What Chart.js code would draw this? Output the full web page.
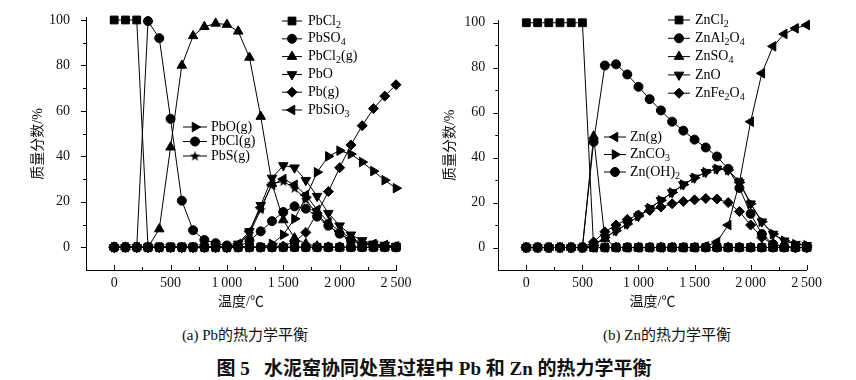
<!DOCTYPE html>
<html>
<head>
<meta charset="utf-8">
<script src="https://cdn.jsdelivr.net/npm/chart.js@4.4.1/dist/chart.umd.min.js"></script>
<style>
  body { margin: 0; background: #fff; width: 856px; height: 380px; position: relative; overflow: hidden;
         font-family: "Liberation Serif", "Noto Sans CJK SC", serif; color: #111; }
  canvas { position: absolute; top: 0; }
  .cap { position: absolute; font-size: 15px; white-space: nowrap; transform: translateX(-50%); }
  #title { position: absolute; left: 434px; top: 353px; font-size: 19px; font-weight: bold; white-space: pre;
           transform: translateX(-50%); }
</style>
</head>
<body>
<canvas id="pb" width="430" height="315" style="left:0"></canvas>
<canvas id="zn" width="426" height="315" style="left:430px"></canvas>
<div class="cap" style="left:245px;top:323px">(a) Pb的热力学平衡</div>
<div class="cap" style="left:667px;top:323px">(b) Zn的热力学平衡</div>
<div id="title">图 5   水泥窑协同处置过程中 Pb 和 Zn 的热力学平衡</div>
<script>
// temperature, °C
const temps = [0, 100, 200, 300, 400, 500, 600, 700, 800, 900, 1000, 1100, 1200,
               1300, 1400, 1500, 1600, 1700, 1800, 1900, 2000, 2100, 2200, 2300, 2400, 2500];
const xTicks = [0, 500, 1000, 1500, 2000, 2500];
const yTicks = [0, 20, 40, 60, 80, 100];

// (a) Pb
const pbLabels = ["PbCl_2", "PbSO_4", "PbCl_2(g)", "PbO", "Pb(g)", "PbSiO_3", "PbO(g)", "PbCl(g)", "PbS(g)"];
const pbCl2  = [100, 100, 100, 0, 0, 0, 0, 0, 0, 0, 0, 0, 0, 0, 0, 0, 0, 0, 0, 0, 0, 0, 0, 0, 0, 0];
const pbSO4  = [0, 0, 0, 99.5, 92, 56.5, 20.5, 7.5, 3.2, 1.8, 0.8, 0.3, 0, 0, 0, 0, 0, 0, 0, 0, 0, 0, 0, 0, 0, 0];
const pbCl2g = [0, 0, 0, 0, 8, 44, 80, 93, 97, 98.5, 98, 95, 83.5, 57.5, 28, 12, 4, 1.5, 0.5, 0, 0, 0, 0, 0, 0, 0];
const pbO    = [0, 0, 0, 0, 0, 0, 0, 0, 0, 0, 0, 1.5, 7, 18.5, 30.5, 36, 35, 29.5, 22.5, 15, 9.5, 5.5, 3, 1.5, 1, 0.5];
const pbG    = [0, 0, 0, 0, 0, 0, 0, 0, 0, 0, 0, 0, 0, 0, 0, 0.5, 2.5, 6.5, 15, 24.5, 35, 45, 53.5, 61, 66.5, 71.5];
const pbSiO3 = [0, 0, 0, 0, 0, 0, 0, 0, 0, 0, 0, 1.5, 7, 17.5, 27.5, 30, 27.5, 23, 16.5, 11, 7, 4, 2, 1.5, 1, 0.5];
const pbOg   = [0, 0, 0, 0, 0, 0, 0, 0, 0, 0, 0, 0, 0, 0, 1.5, 5.5, 12.5, 22, 33, 40, 42.5, 41, 37.5, 33.5, 29.5, 26];
const pbClg  = [0, 0, 0, 0, 0, 0, 0, 0, 0, 0, 0, 0, 3, 7, 11.5, 15.5, 18, 17, 13.5, 9.5, 6, 3, 1.5, 0.8, 0.3, 0];
const pbSg   = [0, 0, 0, 0, 0, 0, 0, 0, 0, 0, 0, 1, 6, 16.5, 28, 29, 26, 21, 14.5, 9.5, 6, 3, 1.5, 1, 0.5, 0.3];

// (b) Zn
const znLabels = ["ZnCl_2", "ZnAl_2O_4", "ZnSO_4", "ZnO", "ZnFe_2O_4", "Zn(g)", "ZnCO_3", "Zn(OH)_2"];
const znCl2   = [100, 100, 100, 100, 100, 100, 0, 0, 0, 0, 0, 0, 0, 0, 0, 0, 0, 0, 0, 0, 0, 0, 0, 0, 0, 0];
const znAl2O4 = [0, 0, 0, 0, 0, 0, 47, 81, 81.5, 77, 71.5, 66, 61, 56, 52, 48, 44.5, 40.5, 35, 26.5, 15, 6, 1.5, 0.3, 0, 0];
const znSO4   = [0, 0, 0, 0, 0, 0, 49.5, 4, 0, 0, 0, 0, 0, 0, 0, 0, 0, 0, 0, 0, 0, 0, 0, 0, 0, 0];
const znO     = [0, 0, 0, 0, 0, 0, 1, 4.5, 7.5, 10.5, 14, 17.5, 21, 24.5, 28, 31, 33.5, 35, 34.5, 29, 19.5, 11.5, 6, 3, 1.5, 1];
const znFe2O4 = [0, 0, 0, 0, 0, 0, 2.5, 7, 10, 12.5, 14.5, 16.5, 18, 19.5, 20.5, 21.2, 21.8, 21.6, 20, 16, 10, 4.5, 1.5, 0.3, 0, 0];
const znG     = [0, 0, 0, 0, 0, 0, 0, 0, 0, 0, 0, 0, 0, 0, 0, 0, 0.5, 2.5, 10, 29, 56, 77.5, 89.5, 95, 97.5, 99];
const znCO3   = [0, 0, 0, 0, 0, 0, 1, 4.5, 7.5, 10.5, 14, 17.5, 21, 24.5, 28, 31, 33.5, 35, 34.5, 29, 19.5, 11.5, 6, 3, 1.5, 1];
const znOH2   = [0, 0, 0, 0, 0, 0, 0, 0, 0, 0, 0, 0, 0, 0, 0, 0, 0, 0, 0, 0, 0, 0, 0, 0, 0, 0];

const SERIF = '"Liberation Serif", "Noto Sans CJK SC", serif';

// filled five point star for PbS(g)
const star = document.createElement("canvas");
star.width = 11; star.height = 11;
(function () {
    const c = star.getContext("2d");
    c.fillStyle = "#000";
    c.beginPath();
    for (let i = 0; i < 10; i++) {
        const r = i % 2 ? 2.2 : 5.3;
        const a = -Math.PI / 2 + i * Math.PI / 5;
        c.lineTo(5.5 + r * Math.cos(a), 5.9 + r * Math.sin(a));
    }
    c.closePath();
    c.fill();
})();

const MK = {
    square:  { style: "rect", r: 5.5, rot: 0 },
    circle:  { style: "circle", r: 4.5, rot: 0 },
    up:      { style: "triangle", r: 5.5, rot: 0 },
    down:    { style: "triangle", r: 5.5, rot: 180 },
    diamond: { style: "rectRot", r: 5, rot: 0 },
    left:    { style: "triangle", r: 5.5, rot: 270 },
    right:   { style: "triangle", r: 5.5, rot: 90 },
    star:    { style: star, r: 5.5, rot: 0 },
};

function makeSet(label, values, mk, order) {
    return {
        label: label,
        data: temps.map((t, i) => ({ x: t, y: values[i] })),
        borderColor: "#000",
        backgroundColor: "#000",
        borderWidth: 1,
        pointStyle: mk.style,
        pointRadius: mk.r,
        pointRotation: mk.rot,
        pointBackgroundColor: "#000",
        pointBorderColor: "#000",
        pointBorderWidth: 1,
        tension: 0,
        clip: false,
        order: order,
        mk: mk,
    };
}

function fmt(v) {
    return v >= 1000 ? String(v).replace(/(\d)(\d{3})$/, "$1\u2009$2") : String(v);
}

function drawRich(ctx, text, x, y) {
    const parts = text.split(/_(\d)/);
    parts.forEach((p, i) => {
        if (i % 2) {
            ctx.font = "10px " + SERIF;
            ctx.fillText(p, x, y + 4);
        } else {
            ctx.font = "14px " + SERIF;
            ctx.fillText(p, x, y);
        }
        x += ctx.measureText(p).width;
    });
}

const marksPlugin = {
    id: "marks",
    afterDraw(chart, args, opts) {
        const ctx = chart.ctx;
        const xs = chart.scales.x, ys = chart.scales.y, a = chart.chartArea;
        ctx.save();
        ctx.strokeStyle = "#000";
        ctx.fillStyle = "#000";
        ctx.lineWidth = 1;
        ctx.beginPath();
        for (let v = 0; v <= 2500; v += 250) {
            const px = Math.round(xs.getPixelForValue(v)) + 0.5;
            const len = v % 500 ? 3 : 5;
            ctx.moveTo(px, a.bottom);
            ctx.lineTo(px, a.bottom - len);
        }
        for (let v = 0; v <= 100; v += 10) {
            const py = Math.round(ys.getPixelForValue(v)) + 0.5;
            const len = v % 20 ? 3 : 5;
            ctx.moveTo(a.left, py);
            ctx.lineTo(a.left - len, py);
        }
        ctx.stroke();

        // legends
        ctx.textBaseline = "middle";
        opts.groups.forEach(g => {
            g.items.forEach((idx, k) => {
                const ds = chart.data.datasets[idx];
                const y = g.y + k * g.dy;
                ctx.beginPath();
                ctx.moveTo(g.x1, y);
                ctx.lineTo(g.x2, y);
                ctx.stroke();
                Chart.helpers.drawPoint(ctx, {
                    pointStyle: ds.mk.style, radius: ds.mk.r, rotation: ds.mk.rot, borderWidth: 1
                }, (g.x1 + g.x2) / 2, y);
                drawRich(ctx, ds.label, g.tx, y);
            });
        });
        ctx.restore();
    }
};

function makeChart(id, datasets, o) {
    return new Chart(document.getElementById(id), {
        type: "line",
        data: { datasets: datasets },
        plugins: [marksPlugin],
        options: {
            responsive: false,
            animation: false,
            devicePixelRatio: 1,
            layout: { padding: { left: 0, right: o.padRight, top: o.padTop, bottom: 0 } },
            plugins: {
                legend: { display: false },
                tooltip: { enabled: false },
                marks: { groups: o.groups },
            },
            scales: {
                x: {
                    type: "linear", min: -250, max: 2500,
                    grid: { display: false },
                    border: { color: "#000", width: 1 },
                    afterBuildTicks: s => { s.ticks = xTicks.map(v => ({ value: v })); },
                    afterFit: s => { s.height = 45; },
                    ticks: { padding: -3, color: "#111", font: { family: SERIF, size: 14 },
                             maxRotation: 0, autoSkip: false, callback: v => fmt(v) },
                    title: { display: true, text: "温度/℃", color: "#111",
                             font: { family: SERIF, size: 14 }, padding: { top: 0, bottom: 4 } },
                },
                y: {
                    type: "linear", min: -10, max: 101,
                    grid: { display: false },
                    border: { color: "#000", width: 1 },
                    afterBuildTicks: s => { s.ticks = yTicks.map(v => ({ value: v })); },
                    afterFit: s => { s.width = o.yWidth; },
                    ticks: { padding: o.yPad, color: "#111", font: { family: SERIF, size: 14 } },
                    title: { display: true, text: "质量分数/%", color: "#111",
                             font: { family: SERIF, size: 14 }, padding: { top: o.titlePad, bottom: 0 } },
                },
            },
        },
    });
}

makeChart("pb", [
    makeSet(pbLabels[0], pbCl2, MK.square, 1),
    makeSet(pbLabels[1], pbSO4, MK.circle, 0),
    makeSet(pbLabels[2], pbCl2g, MK.up, 1),
    makeSet(pbLabels[3], pbO, MK.down, 1),
    makeSet(pbLabels[4], pbG, MK.diamond, 1),
    makeSet(pbLabels[5], pbSiO3, MK.left, 1),
    makeSet(pbLabels[6], pbOg, MK.right, 1),
    makeSet(pbLabels[7], pbClg, MK.circle, 0),
    makeSet(pbLabels[8], pbSg, MK.star, 1),
], {
    padRight: 34, padTop: 17.7, yWidth: 86, yPad: 8, titlePad: 29.6,
    groups: [
        { items: [0, 1, 2, 3, 4, 5], x1: 282, x2: 302, tx: 308, y: 21, dy: 17.8 },
        { items: [6, 7, 8], x1: 183, x2: 207, tx: 211, y: 127, dy: 14.5 },
    ],
});

makeChart("zn", [
    makeSet(znLabels[0], znCl2, MK.square, 1),
    makeSet(znLabels[1], znAl2O4, MK.circle, 0),
    makeSet(znLabels[2], znSO4, MK.up, 1),
    makeSet(znLabels[3], znO, MK.down, 1),
    makeSet(znLabels[4], znFe2O4, MK.diamond, 1),
    makeSet(znLabels[5], znG, MK.left, 1),
    makeSet(znLabels[6], znCO3, MK.right, 1),
    makeSet(znLabels[7], znOH2, MK.circle, 0),
], {
    padRight: 49.3, padTop: 20.5, yWidth: 68.3, yPad: 5, titlePad: 11.6,
    groups: [
        { items: [0, 1, 2, 3, 4], x1: 238, x2: 260, tx: 265, y: 20, dy: 18.3 },
        { items: [5, 6, 7], x1: 174, x2: 196, tx: 200, y: 137, dy: 17.5 },
    ],
});
</script>
</body>
</html>
